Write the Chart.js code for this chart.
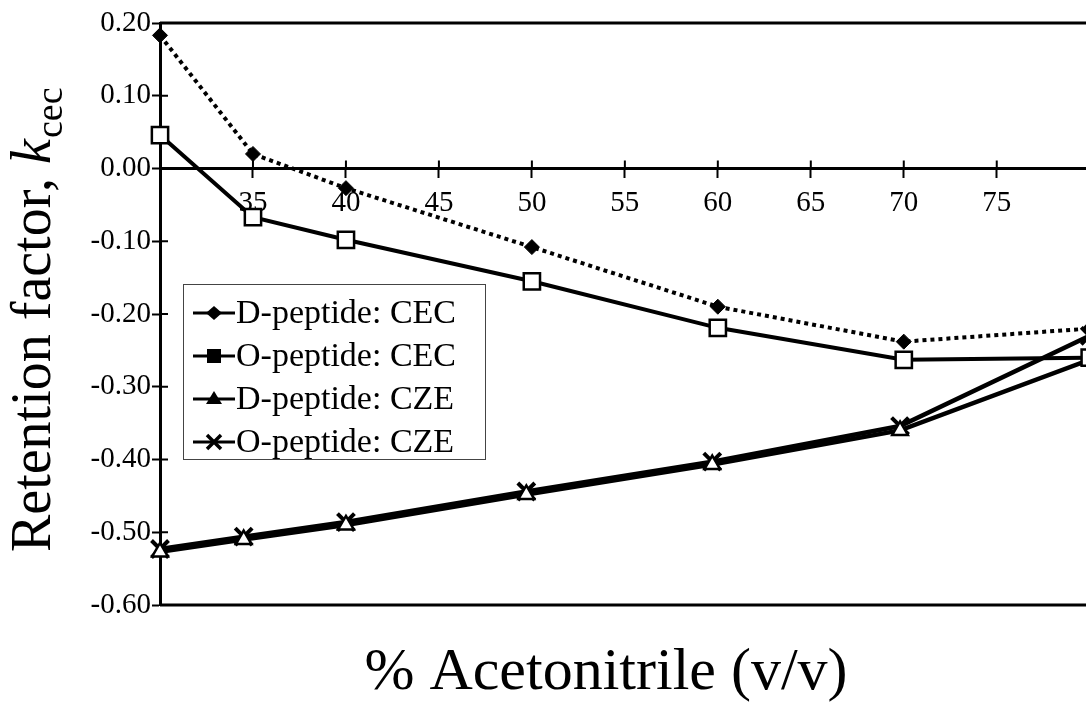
<!DOCTYPE html>
<html>
<head>
<meta charset="utf-8">
<title>Retention factor vs % acetonitrile</title>
<script src="https://cdn.jsdelivr.net/npm/chart.js@4.4.1/dist/chart.umd.min.js"></script>
<style>
  html, body { margin: 0; padding: 0; background: #fff; }
  #wrap { width: 1086px; height: 704px; overflow: hidden; }
</style>
</head>
<body>
<div id="wrap"><canvas id="kChart" width="1086" height="704"></canvas></div>
<script>
// Values
const xCec = [30, 35, 40, 50, 60, 70, 80];
const dPeptideCec = [0.183, 0.020, -0.027, -0.108, -0.190, -0.238, -0.220];
const oPeptideCec = [0.046, -0.067, -0.098, -0.155, -0.219, -0.263, -0.260];
const xCze = [30, 34.5, 40, 49.7, 59.7, 69.8, 80];
const dPeptideCze = [-0.527, -0.510, -0.490, -0.448, -0.407, -0.360, -0.263];
const oPeptideCze = [-0.523, -0.506, -0.486, -0.444, -0.403, -0.354, -0.230];
const seriesNames = ['D-peptide: CEC', 'O-peptide: CEC', 'D-peptide: CZE', 'O-peptide: CZE'];
const xTicks = [35, 40, 45, 50, 55, 60, 65, 70, 75];
const yTicks = [0.2, 0.1, 0, -0.1, -0.2, -0.3, -0.4, -0.5, -0.6];

const serif = "'Liberation Serif', 'Times New Roman', serif";
const pts = (xs, ys) => xs.map((x, i) => ({ x: x, y: ys[i] }));

// legend icons (the figure's legend shows filled markers on a solid line)
function legendIcon(ctx, kind, cx, cy) {
    ctx.beginPath();
    ctx.moveTo(cx - 21, cy);
    ctx.lineTo(cx + 21, cy);
    ctx.lineWidth = 3;
    ctx.stroke();
    ctx.beginPath();
    if (kind === 0) {
        ctx.moveTo(cx, cy - 7); ctx.lineTo(cx + 8, cy); ctx.lineTo(cx, cy + 7); ctx.lineTo(cx - 8, cy);
        ctx.closePath(); ctx.fill();
    } else if (kind === 1) {
        ctx.fillRect(cx - 7, cy - 7, 14, 14);
    } else if (kind === 2) {
        ctx.moveTo(cx, cy - 8); ctx.lineTo(cx + 8, cy + 5); ctx.lineTo(cx - 8, cy + 5);
        ctx.closePath(); ctx.fill();
    } else {
        ctx.lineWidth = 3.5;
        ctx.moveTo(cx - 7, cy - 7); ctx.lineTo(cx + 7, cy + 7);
        ctx.moveTo(cx + 7, cy - 7); ctx.lineTo(cx - 7, cy + 7);
        ctx.stroke();
    }
}

const figureParts = {
    id: 'figureParts',
    beforeDatasetsDraw(chart) {
        const { ctx, chartArea: a, scales: { x, y } } = chart;
        ctx.save();
        ctx.strokeStyle = '#000';
        // top and bottom frame
        ctx.lineWidth = 3;
        ctx.beginPath();
        ctx.moveTo(a.left, a.top); ctx.lineTo(a.right, a.top);
        ctx.moveTo(a.left, a.bottom); ctx.lineTo(a.right, a.bottom);
        ctx.stroke();
        // tick marks cross the axes: inner half
        ctx.lineWidth = 2;
        const y0 = y.getPixelForValue(0);
        ctx.beginPath();
        yTicks.forEach(v => {
            const py = y.getPixelForValue(v);
            ctx.moveTo(a.left, py); ctx.lineTo(a.left + 8, py);
        });
        xTicks.forEach(v => {
            const px = x.getPixelForValue(v);
            ctx.moveTo(px, y0); ctx.lineTo(px, y0 - 8);
        });
        ctx.stroke();
        ctx.restore();
    },
    afterDraw(chart) {
        const ctx = chart.ctx;
        ctx.save();
        ctx.fillStyle = '#000';
        ctx.strokeStyle = '#000';

        // y title with italic k and subscript
        ctx.save();
        ctx.translate(50, 552);
        ctx.rotate(-Math.PI / 2);
        ctx.textAlign = 'left';
        ctx.textBaseline = 'alphabetic';
        ctx.font = '56px ' + serif;
        const main = 'Retention factor, ';
        ctx.fillText(main, 0, 0);
        let w = ctx.measureText(main).width;
        ctx.font = 'italic 56px ' + serif;
        ctx.fillText('k', w, 0);
        w += ctx.measureText('k').width;
        ctx.font = '38px ' + serif;
        ctx.fillText('cec', w + 1, 12);
        ctx.restore();

        // x title
        ctx.font = '60px ' + serif;
        ctx.textAlign = 'center';
        ctx.textBaseline = 'alphabetic';
        ctx.fillText('% Acetonitrile (v/v)', 606, 689);

        // legend box
        const lx = 183, ly = 284, lw = 302, lh = 175;
        ctx.fillStyle = '#fff';
        ctx.fillRect(lx, ly, lw, lh);
        ctx.lineWidth = 1;
        ctx.strokeStyle = '#444';
        ctx.strokeRect(lx + 0.5, ly + 0.5, lw, lh);
        ctx.fillStyle = '#000';
        ctx.strokeStyle = '#000';
        ctx.font = '34px ' + serif;
        ctx.textAlign = 'left';
        ctx.textBaseline = 'middle';
        seriesNames.forEach((name, i) => {
            const cy = ly + 29 + i * 43;
            legendIcon(ctx, i, 214, cy);
            ctx.fillText(name, 236, cy + 1);
        });
        ctx.restore();
    }
};

const axisGrid = {
    drawOnChartArea: false,
    color: '#000',
    tickColor: '#000',
    tickLength: 8,
    tickWidth: 2
};

const ctx = document.getElementById('kChart').getContext('2d');
const kChart = new Chart(ctx, {
    type: 'line',
    data: {
        datasets: [{
            label: seriesNames[0],
            data: pts(xCec, dPeptideCec),
            borderColor: '#000',
            borderWidth: 4,
            borderDash: [4, 4],
            pointStyle: 'rectRot',
            pointRadius: 7.5,
            pointBackgroundColor: '#000',
            pointBorderColor: '#000',
            pointBorderWidth: 1,
            clip: false
        }, {
            label: seriesNames[1],
            data: pts(xCec, oPeptideCec),
            borderColor: '#000',
            borderWidth: 4,
            pointStyle: 'rect',
            pointRadius: 11.5,
            pointBackgroundColor: '#fff',
            pointBorderColor: '#000',
            pointBorderWidth: 2.5,
            clip: false
        }, {
            label: seriesNames[2],
            data: pts(xCze, dPeptideCze),
            borderColor: '#000',
            borderWidth: 4.5,
            pointStyle: 'triangle',
            pointRadius: 9,
            pointBackgroundColor: '#fff',
            pointBorderColor: '#000',
            pointBorderWidth: 2.5,
            clip: false
        }, {
            label: seriesNames[3],
            data: pts(xCze, oPeptideCze),
            borderColor: '#000',
            borderWidth: 4.5,
            pointStyle: 'crossRot',
            pointRadius: 12,
            pointBorderColor: '#000',
            pointBorderWidth: 4,
            clip: false
        }]
    },
    options: {
        responsive: false,
        animation: false,
        events: [],
        layout: { autoPadding: false, padding: { top: 23, right: 0, bottom: 99, left: 0 } },
        plugins: {
            legend: { display: false },
            tooltip: { enabled: false }
        },
        scales: {
            x: {
                type: 'linear',
                min: 30,
                max: 79.8,
                position: { y: 0 },
                border: { color: '#000', width: 3 },
                grid: axisGrid,
                afterBuildTicks: s => { s.ticks = xTicks.map(v => ({ value: v })); },
                afterFit: s => { s.paddingLeft = 0; s.paddingRight = 0; },
                ticks: {
                    color: '#000',
                    font: { family: serif, size: 29 },
                    padding: 9,
                    maxRotation: 0,
                    autoSkip: false
                }
            },
            y: {
                type: 'linear',
                min: -0.6,
                max: 0.2,
                afterFit: s => { s.width = 160; },
                afterBuildTicks: s => { s.ticks = yTicks.map(v => ({ value: v })); },
                border: { color: '#000', width: 3 },
                grid: axisGrid,
                ticks: {
                    color: '#000',
                    font: { family: serif, size: 29 },
                    padding: 1,
                    callback: v => Number(v).toFixed(2)
                }
            }
        }
    },
    plugins: [figureParts]
});
</script>
</body>
</html>
